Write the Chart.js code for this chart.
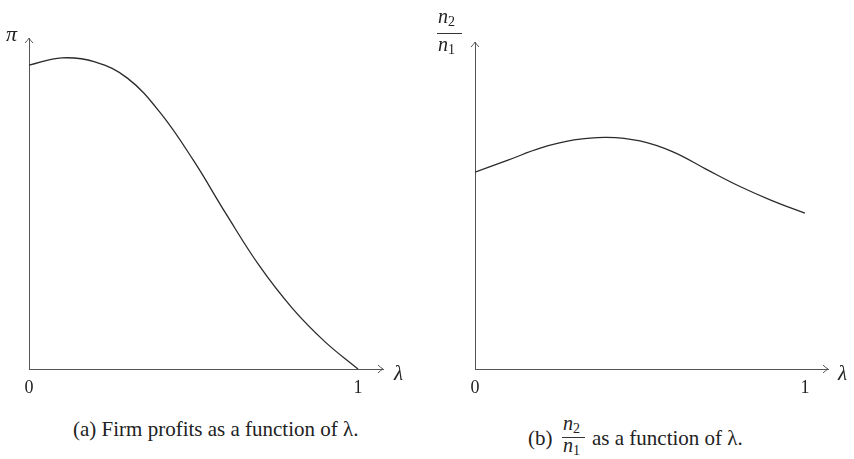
<!DOCTYPE html>
<html>
<head>
<meta charset="utf-8">
<script src="https://cdn.jsdelivr.net/npm/chart.js@4.4.1/dist/chart.umd.min.js"></script>
<style>
    body { margin: 0; background: #fff; width: 854px; height: 459px; position: relative; overflow: hidden;
           font-family: 'Liberation Serif', 'DejaVu Serif', serif; color: #222; }
    canvas { position: absolute; top: 0; }
    .lbl { position: absolute; line-height: 1; white-space: nowrap; }
    .it { font-style: italic; }
    .bar { position: absolute; height: 0; border-top: 1px solid #333; }
    sub { font-size: 0.7em; vertical-align: -0.2em; font-style: normal; line-height: 0; }
</style>
</head>
<body>
<canvas id="chartA" width="427" height="400" style="left:0"></canvas>
<canvas id="chartB" width="424" height="400" style="left:430px"></canvas>

<!-- axis labels -->
<div class="lbl it" style="left:6px; top:23px; font-size:22px;">π</div>
<div class="lbl it" style="left:394px; top:363px; font-size:21px;">λ</div>
<div class="lbl it" style="left:838px; top:363px; font-size:21px;">λ</div>
<div class="lbl it" style="left:438px; top:6px; font-size:20px;">n<sub>2</sub></div>
<div class="bar" style="left:437px; top:33px; width:25px;"></div>
<div class="lbl it" style="left:438px; top:34px; font-size:20px;">n<sub>1</sub></div>

<!-- captions -->
<div class="lbl" style="left:73px; top:419px; font-size:21px;">(a) Firm profits as a function of λ.</div>
<div class="lbl" style="left:528px; top:428px; font-size:21px;">(b)</div>
<div class="lbl it" style="left:563px; top:413px; font-size:20px;">n<sub>2</sub></div>
<div class="bar" style="left:562px; top:437px; width:23px;"></div>
<div class="lbl it" style="left:563px; top:435px; font-size:20px;">n<sub>1</sub></div>
<div class="lbl" style="left:592px; top:428px; font-size:21px;">as a function of λ.</div>

<script>
// Panel (a): firm profits against lambda
const lambdaA = [0, 0.1, 0.2, 0.3, 0.4, 0.5, 0.6, 0.7, 0.8, 0.9, 1];
const profitA = [0.918, 0.940, 0.928, 0.878, 0.773, 0.630, 0.467, 0.312, 0.184, 0.082, 0];

// Panel (b): n2/n1 against lambda
const lambdaB = [0, 0.1, 0.2, 0.3, 0.4, 0.5, 0.6, 0.7, 0.8, 0.9, 1];
const ratioB = [0.595, 0.631, 0.668, 0.692, 0.700, 0.689, 0.656, 0.604, 0.553, 0.509, 0.471];

// only 0 and 1 are labelled on the lambda axis
const tickValues = [0, 1];

const AXIS_COLOR = '#555';
const CURVE_COLOR = '#2a2a2a';

// open arrow heads at the ends of both axes
const axisArrows = {
    id: 'axisArrows',
    afterDraw(chart) {
        const { ctx, chartArea: a } = chart;
        ctx.save();
        ctx.strokeStyle = AXIS_COLOR;
        ctx.lineWidth = 1;
        ctx.beginPath();
        ctx.moveTo(a.right - 5, a.bottom - 4);
        ctx.quadraticCurveTo(a.right - 2, a.bottom - 1, a.right, a.bottom);
        ctx.quadraticCurveTo(a.right - 2, a.bottom + 1, a.right - 5, a.bottom + 4);
        ctx.moveTo(a.left - 4, a.top + 5);
        ctx.quadraticCurveTo(a.left - 1, a.top + 2, a.left, a.top);
        ctx.quadraticCurveTo(a.left + 1, a.top + 2, a.left + 4, a.top + 5);
        ctx.stroke();
        ctx.restore();
    }
};

function makeChart(id, xs, ys, opts) {
    return new Chart(document.getElementById(id), {
        type: 'line',
        data: {
            datasets: [{
                data: xs.map((x, i) => ({ x: x, y: ys[i] })),
                borderColor: CURVE_COLOR,
                borderWidth: 1.3,
                pointRadius: 0,
                tension: 0.4,
                fill: false,
            }],
        },
        options: {
            responsive: false,
            animation: false,
            layout: { padding: { left: 0, top: opts.top, right: opts.right, bottom: 0 } },
            plugins: { legend: { display: false }, tooltip: { enabled: false } },
            scales: {
                x: {
                    type: 'linear',
                    min: 0,
                    max: opts.xMax,
                    grid: { display: false },
                    border: { display: true, color: AXIS_COLOR, width: 1 },
                    afterBuildTicks: (scale) => { scale.ticks = tickValues.map(v => ({ value: v })); },
                    afterFit: (scale) => { scale.height = 31; },
                    ticks: {
                        autoSkip: false,
                        maxRotation: 0,
                        padding: 0,
                        color: '#222',
                        font: { family: "'Liberation Serif', serif", size: 18 },
                    },
                },
                y: {
                    type: 'linear',
                    min: 0,
                    max: opts.yMax,
                    grid: { display: false },
                    border: { display: true, color: AXIS_COLOR, width: 1 },
                    ticks: { display: false },
                    afterFit: (scale) => { scale.width = opts.left; },
                },
            },
        },
        plugins: [axisArrows],
    });
}

makeChart('chartA', lambdaA, profitA, { left: 29, top: 38, right: 44, xMax: 1.076, yMax: 1 });
makeChart('chartB', lambdaB, ratioB, { left: 45, top: 42, right: 26, xMax: 1.07, yMax: 0.988 });
</script>
</body>
</html>
